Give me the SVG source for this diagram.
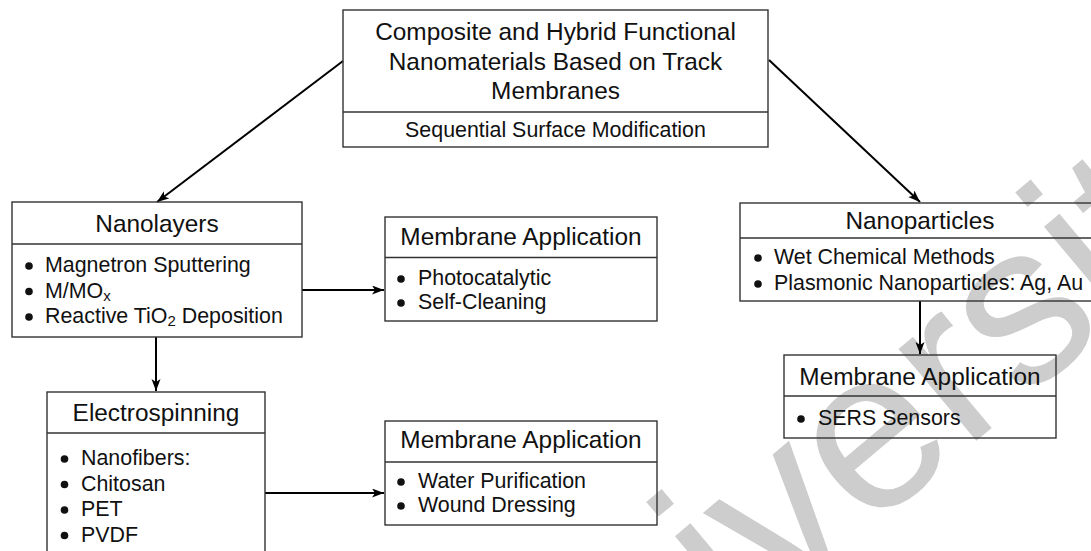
<svg xmlns="http://www.w3.org/2000/svg" width="1091" height="551" viewBox="0 0 1091 551">
<style>
text{font-family:"Liberation Sans",Arial,sans-serif;fill:#111}
.h{font-size:24.4px;text-anchor:middle}
.t{font-size:21.4px}
.dot{fill:#111}
.box{fill:none;stroke:#333;stroke-width:1.4}
.con{fill:none;stroke:#000;stroke-width:2}
.wm{font-family:"Liberation Sans",Arial,sans-serif;font-size:228px;fill:#cdcdcd}
</style>
<defs>
<marker id="arr" markerUnits="userSpaceOnUse" markerWidth="13" markerHeight="10" refX="12" refY="4.5" orient="auto">
<path d="M0,0 L12,4.5 L0,9 L3,4.5 z" fill="#000"/>
</marker>
</defs>
<rect width="1091" height="551" fill="#fff"/>
<text class="wm" transform="translate(517.6,825.6) rotate(-40)">University</text>

<g id="connectors">
<line class="con" x1="343" y1="61" x2="157" y2="202" marker-end="url(#arr)"/>
<line class="con" x1="769" y1="60" x2="920" y2="202" marker-end="url(#arr)"/>
<line class="con" x1="302" y1="290" x2="384" y2="290" marker-end="url(#arr)"/>
<line class="con" x1="156" y1="337" x2="156" y2="391" marker-end="url(#arr)"/>
<line class="con" x1="265" y1="493" x2="384" y2="493" marker-end="url(#arr)"/>
<line class="con" x1="920" y1="301" x2="920" y2="354" marker-end="url(#arr)"/>
</g>

<g id="root">
<rect class="box" x="343" y="10" width="425" height="137"/>
<line class="box" x1="343" y1="112" x2="768" y2="112"/>
<text class="h" x="555.5" y="40">Composite and Hybrid Functional</text>
<text class="h" x="555.5" y="69.5">Nanomaterials Based on Track</text>
<text class="h" x="555.5" y="98.5">Membranes</text>
<text class="t" x="555.5" y="136.5" text-anchor="middle">Sequential Surface Modification</text>
</g>

<g id="nanolayers">
<rect class="box" x="12" y="202" width="290" height="135"/>
<line class="box" x1="12" y1="244" x2="302" y2="244"/>
<text class="h" x="157" y="231.5">Nanolayers</text>
<circle class="dot" cx="29" cy="266" r="3.8"/>
<text class="t" x="45" y="272">Magnetron Sputtering</text>
<circle class="dot" cx="29" cy="291.5" r="3.8"/>
<text class="t" x="45" y="297.5">M/MO<tspan font-size="15" dy="3">x</tspan></text>
<circle class="dot" cx="29" cy="317" r="3.8"/>
<text class="t" x="45" y="323">Reactive TiO<tspan font-size="15" dy="3">2</tspan><tspan dy="-3"> Deposition</tspan></text>
</g>

<g id="app1">
<rect class="box" x="385" y="217" width="272" height="104"/>
<line class="box" x1="385" y1="257.5" x2="657" y2="257.5"/>
<text class="h" x="521" y="245">Membrane Application</text>
<circle class="dot" cx="401" cy="279" r="3.8"/>
<text class="t" x="418" y="285">Photocatalytic</text>
<circle class="dot" cx="401" cy="303" r="3.8"/>
<text class="t" x="418" y="309">Self-Cleaning</text>
</g>

<g id="electrospinning">
<rect class="box" x="47" y="392" width="218" height="172"/>
<line class="box" x1="47" y1="433" x2="265" y2="433"/>
<text class="h" x="156" y="421">Electrospinning</text>
<circle class="dot" cx="64.5" cy="459" r="3.8"/>
<text class="t" x="81" y="465">Nanofibers:</text>
<circle class="dot" cx="64.5" cy="484.5" r="3.8"/>
<text class="t" x="81" y="490.5">Chitosan</text>
<circle class="dot" cx="64.5" cy="510" r="3.8"/>
<text class="t" x="81" y="516">PET</text>
<circle class="dot" cx="64.5" cy="535.5" r="3.8"/>
<text class="t" x="81" y="541.5">PVDF</text>
</g>

<g id="app2">
<rect class="box" x="385" y="421" width="272" height="104"/>
<line class="box" x1="385" y1="462" x2="657" y2="462"/>
<text class="h" x="521" y="448">Membrane Application</text>
<circle class="dot" cx="401" cy="482" r="3.8"/>
<text class="t" x="418" y="488">Water Purification</text>
<circle class="dot" cx="401" cy="506" r="3.8"/>
<text class="t" x="418" y="512">Wound Dressing</text>
</g>

<g id="nanoparticles">
<rect class="box" x="740" y="203" width="360" height="98"/>
<line class="box" x1="740" y1="238" x2="1100" y2="238"/>
<text class="h" x="920" y="228.5">Nanoparticles</text>
<circle class="dot" cx="758" cy="258" r="3.8"/>
<text class="t" x="774" y="264">Wet Chemical Methods</text>
<circle class="dot" cx="758" cy="284" r="3.8"/>
<text class="t" x="774" y="290">Plasmonic Nanoparticles: Ag, Au</text>
</g>

<g id="app3">
<rect class="box" x="784" y="355" width="272" height="83"/>
<line class="box" x1="784" y1="396" x2="1056" y2="396"/>
<text class="h" x="920" y="385">Membrane Application</text>
<circle class="dot" cx="801" cy="419" r="3.8"/>
<text class="t" x="818" y="425">SERS Sensors</text>
</g>
</svg>
